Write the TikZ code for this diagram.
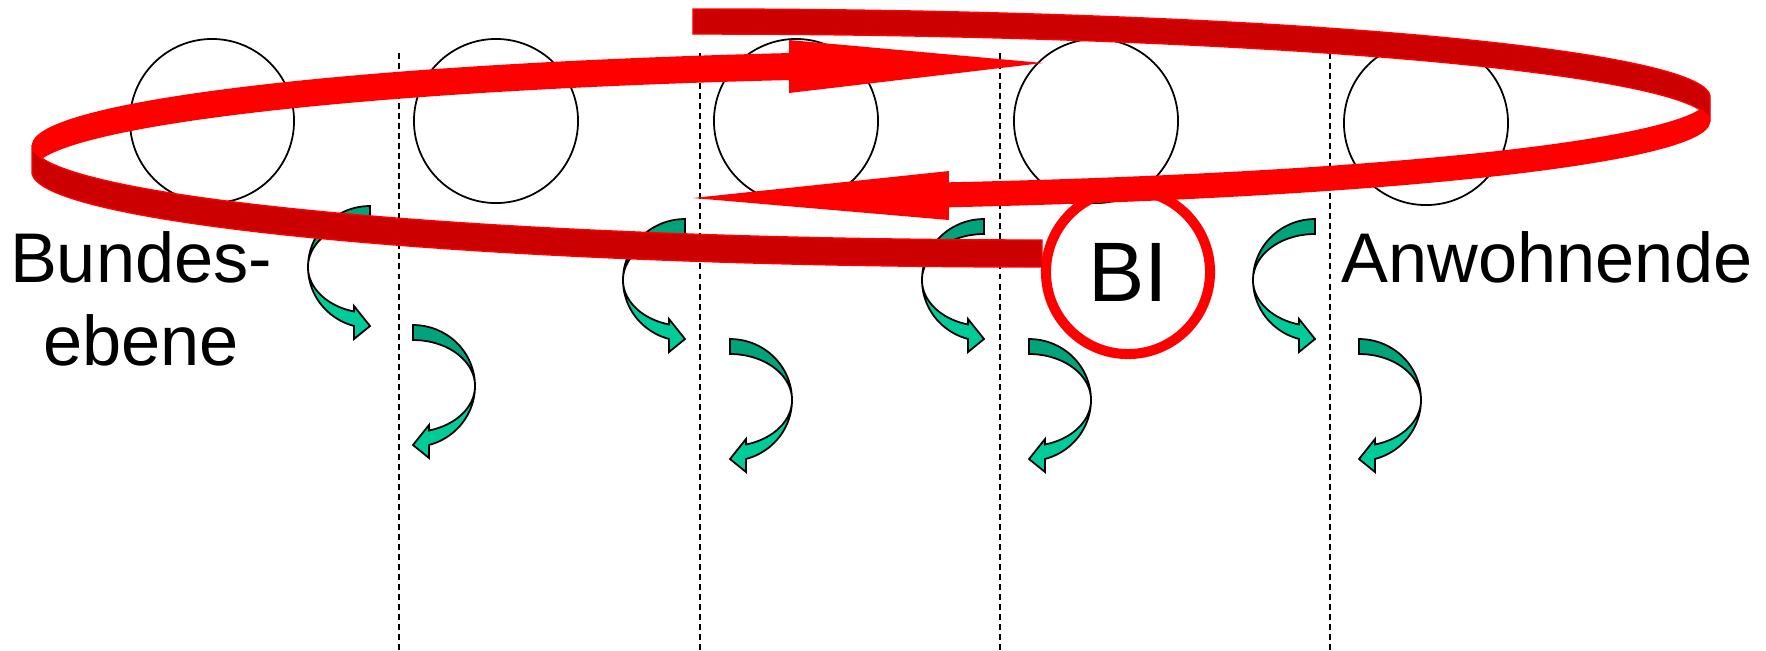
\documentclass[tikz,border=0pt]{standalone}
\usepackage{fontspec}
\setmainfont{Liberation Sans}
\definecolor{redlight}{RGB}{255,0,0}
\definecolor{reddark}{RGB}{204,0,0}
\definecolor{greenlight}{RGB}{0,204,153}
\definecolor{greendark}{RGB}{0,163,122}
\tikzset{
  hollow/.style={circle, draw, line width=0.5pt, minimum size=1.64cm, inner sep=0pt},
  bicircle/.style={circle, draw=redlight, line width=2.85pt, minimum size=1.64cm,
    inner sep=0pt, font=\fontsize{24}{28}\selectfont},
  lbl/.style={inner sep=0pt, anchor=base, font=\fontsize{20}{24}\selectfont},
  divider/.style={line width=0.45pt, dash pattern=on 1.7pt off 1.15pt},
  greenback/.style={fill=greendark, draw=black, line width=0.5pt},
  greenfront/.style={fill=greenlight, draw=black, line width=0.5pt},
  redback/.style={fill=reddark, draw=redlight, line width=0.4pt},
  curlleft/.pic={
    \filldraw[greenback] plot[domain=270:180] ({62*cos(\x)},{61*sin(\x)})
      -- plot[domain=180:270] ({62*cos(\x)},{46*sin(\x)}) -- cycle;
    \filldraw[greenfront] plot[domain=180:105] ({62*cos(\x)},{61*sin(\x)})
      -- (-16,72) -- (0,59) -- (-16,39)
      -- plot[domain=105:180] ({62*cos(\x)},{46*sin(\x)}) -- cycle;
  },
  curlright/.pic={
    \filldraw[greenback] plot[domain=270:180] ({-62*cos(\x)},{61*sin(\x)})
      -- plot[domain=180:270] ({-62*cos(\x)},{46*sin(\x)}) -- cycle;
    \filldraw[greenfront] plot[domain=180:105] ({-62*cos(\x)},{61*sin(\x)})
      -- (16,72) -- (0,59) -- (16,39)
      -- plot[domain=105:180] ({-62*cos(\x)},{46*sin(\x)}) -- cycle;
  }
}
\begin{document}
\begin{tikzpicture}[x=0.01cm, y=-0.01cm, samples=40]
  \useasboundingbox (0,0) rectangle (1766,650);
  % columns
  \draw[divider] (399,53) -- (399,650);
  \draw[divider] (700,53) -- (700,650);
  \draw[divider] (1000,53) -- (1000,650);
  \draw[divider] (1330,53) -- (1330,650);
  % levels
  \node[hollow] (c1) at (212,121) {};
  \node[hollow] (c2) at (496,121) {};
  \node[hollow] (c3) at (796,121) {};
  \node[hollow] (c4) at (1096,121) {};
  \node[hollow] (c5) at (1426,123) {};
  \node[bicircle] (bi) at (1128,272) {BI};
  \node[lbl] (bund) at (141,282) {Bundes-};
  \node[lbl] (ebene) at (141,365) {ebene};
  \node[lbl] (anw) at (1547,282) {Anwohnende};
  % turning arrows
  \pic at (370,267) {curlleft};
  \pic at (413,386) {curlright};
  \pic at (685,280) {curlleft};
  \pic at (730,400) {curlright};
  \pic at (984,280) {curlleft};
  \pic at (1029,400) {curlright};
  \pic at (1315,280) {curlleft};
  \pic at (1359,400) {curlright};
  % spiral
  \begin{scope}[samples=90]
    \fill[redlight] plot[domain=0:-75.74] ({700+1010*cos(\x)},{97-88*sin(\x)})
      -- (949,171) -- (693,198) -- (949,220)
      -- plot[domain=-75.74:0] ({700+1010*cos(\x)},{122-88*sin(\x)}) -- cycle;
    \fill[redlight] plot[domain=180:104.5] ({1042+1010*cos(\x)},{145-95*sin(\x)})
      -- (789,40) -- (1043,63) -- (789,93)
      -- plot[domain=104.5:180] ({1042+1010*cos(\x)},{172-95*sin(\x)}) -- cycle;
    \filldraw[redback] plot[domain=90.4:0] ({700+1010*cos(\x)},{97-88*sin(\x)})
      -- plot[domain=0:90.4] ({700+1010*cos(\x)},{122-88*sin(\x)}) -- cycle;
    \filldraw[redback] plot[domain=-90:-180] ({1042+1010*cos(\x)},{145-95*sin(\x)})
      -- plot[domain=-180:-90] ({1042+1010*cos(\x)},{172-95*sin(\x)}) -- cycle;
  \end{scope}
\end{tikzpicture}
\end{document}
